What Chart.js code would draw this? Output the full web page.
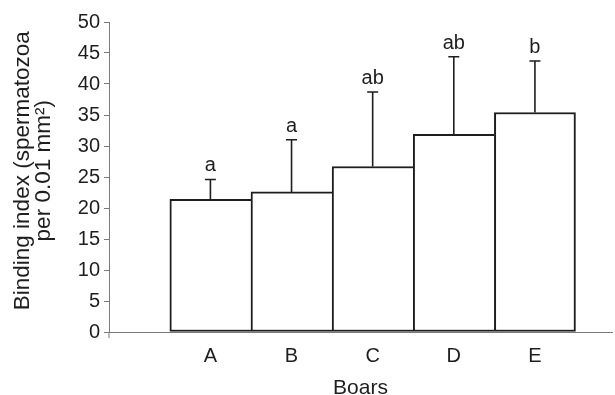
<!DOCTYPE html>
<html>
<head>
<meta charset="utf-8">
<script src="https://cdn.jsdelivr.net/npm/chart.js@4.4.1/dist/chart.umd.min.js"></script>
<style>
  html, body { margin: 0; padding: 0; background: #fff; }
  #wrap { width: 615px; height: 395px; }
</style>
</head>
<body>
<div id="wrap"><canvas id="chart"></canvas></div>
<script>
const boars = ['A', 'B', 'C', 'D', 'E'];
const bindingIndex = [21.4, 22.6, 26.7, 31.9, 35.4];
const sd = [3.2, 8.4, 12.0, 12.5, 8.3];
const groupLetters = ['a', 'a', 'ab', 'ab', 'b'];

const FONT = '"Liberation Sans", Arial, sans-serif';
const INK = '#1e1e1e';
const AXIS = '#7a7a7a';

// error bars (upper only) + significance letters
const errorBars = {
    id: 'errorBars',
    afterDatasetsDraw(chart) {
        const ctx = chart.ctx;
        const y = chart.scales.y;
        const meta = chart.getDatasetMeta(0);
        ctx.save();
        ctx.strokeStyle = INK;
        ctx.lineWidth = 1.6;
        ctx.fillStyle = INK;
        ctx.font = '20px ' + FONT;
        ctx.textAlign = 'center';
        ctx.textBaseline = 'alphabetic';
        meta.data.forEach((bar, i) => {
            const top = y.getPixelForValue(bindingIndex[i] + sd[i]);
            ctx.beginPath();
            ctx.moveTo(bar.x, bar.y);
            ctx.lineTo(bar.x, top);
            ctx.moveTo(bar.x - 5.5, top);
            ctx.lineTo(bar.x + 5.5, top);
            ctx.stroke();
            ctx.fillText(groupLetters[i], bar.x, top - 8);
        });
        // y axis runs a little past zero
        const area = chart.chartArea;
        ctx.strokeStyle = AXIS;
        ctx.lineWidth = 1;
        ctx.beginPath();
        ctx.moveTo(area.left, area.bottom);
        ctx.lineTo(area.left, area.bottom + 6);
        ctx.stroke();
        ctx.restore();
    }
};

new Chart(document.getElementById('chart'), {
    type: 'bar',
    data: {
        datasets: [{
            data: boars.map((b, i) => ({ x: i, y: bindingIndex[i] })),
            backgroundColor: '#fff',
            borderColor: INK,
            borderWidth: c => ({ top: 2, bottom: 2, left: 2, right: c.dataIndex === boars.length - 1 ? 2 : 0 }),
            borderSkipped: false,
            categoryPercentage: 1,
            barPercentage: 1
        }]
    },
    options: {
        animation: false,
        responsive: true,
        maintainAspectRatio: false,
        layout: { padding: { top: 22, right: 3, left: 0, bottom: 0 } },
        plugins: { legend: { display: false }, tooltip: { enabled: false } },
        scales: {
            x: {
                type: 'linear',
                offset: false,
                min: -1.25,
                max: 4.95,
                afterBuildTicks: s => { s.ticks = boars.map((b, i) => ({ value: i })); },
                afterFit: s => { s.height = 63; },
                grid: { display: false },
                border: { display: true, color: AXIS, width: 1 },
                ticks: {
                    callback: v => boars[v],
                    padding: 4,
                    maxRotation: 0,
                    autoSkip: false,
                    color: INK,
                    font: { family: FONT, size: 20 }
                },
                title: {
                    display: true,
                    text: 'Boars',
                    color: INK,
                    font: { family: FONT, size: 21, lineHeight: 1 },
                    padding: { top: 0, bottom: -4 }
                }
            },
            y: {
                min: 0,
                max: 50,
                afterFit: s => { s.width = 109; },
                grid: { drawOnChartArea: false, tickLength: 5, color: AXIS },
                border: { display: true, color: AXIS, width: 1 },
                ticks: {
                    stepSize: 5,
                    padding: 4,
                    color: INK,
                    font: { family: FONT, size: 20 }
                },
                title: {
                    display: true,
                    // leading spaces nudge the rotated title upward, as in the original
                    text: ['  Binding index (spermatozoa', '  per 0.01 mm²)'],
                    color: INK,
                    font: { family: FONT, size: 22.5, lineHeight: 0.93 },
                    padding: { top: 12.4, bottom: 0 }
                }
            }
        }
    },
    plugins: [errorBars]
});
</script>
</body>
</html>
